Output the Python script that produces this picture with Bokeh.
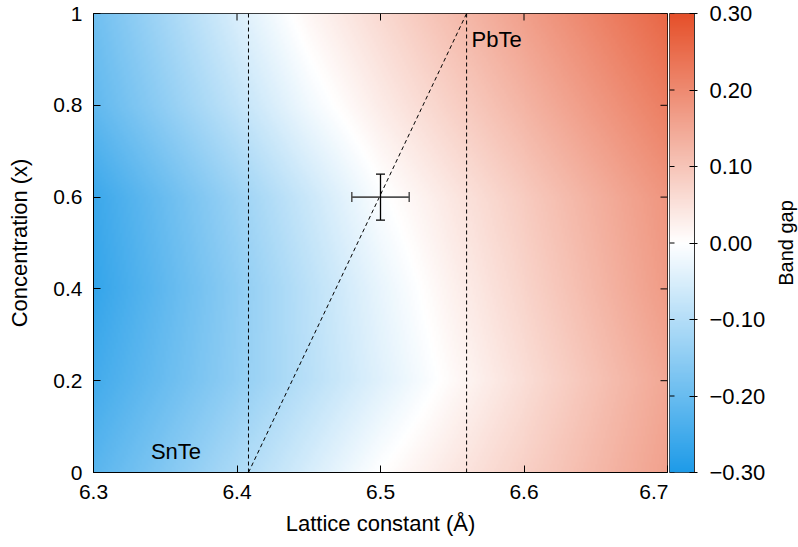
import numpy as np
from bokeh.plotting import figure
from bokeh.layouts import row
from bokeh.models import (LinearColorMapper, FixedTicker, CustomJSTickFormatter,
                          Label, Whisker, ColumnDataSource, Span)
from bokeh.embed import file_html
from bokeh.resources import INLINE

# ---- data ----
lattice = [6.30, 6.35, 6.40, 6.45, 6.50, 6.55, 6.60, 6.65, 6.70]
concentration = [0.0, 0.2, 0.4, 0.6, 0.8, 1.0]
gap_x00 = [-0.22, -0.165, -0.11, -0.055, 0.0, 0.04, 0.08, 0.12, 0.16]
gap_x02 = [-0.25, -0.198, -0.146, -0.094, -0.042, 0.009, 0.056, 0.103, 0.15]
gap_x04 = [-0.27, -0.21, -0.15, -0.09, -0.03, 0.024, 0.073, 0.121, 0.17]
gap_x06 = [-0.26, -0.197, -0.133, -0.07, -0.006, 0.041, 0.088, 0.134, 0.18]
gap_x08 = [-0.21, -0.146, -0.083, -0.019, 0.033, 0.08, 0.127, 0.174, 0.22]
gap_x10 = [-0.19, -0.12, -0.05, 0.015, 0.064, 0.113, 0.162, 0.21, 0.26]

vline_a = [6.408, 6.56]
diag_a = [6.408, 6.56]
diag_x = [0.0, 1.0]

point_a = [6.50]
point_x = [0.60]
err_a = [0.02]
err_x = [0.05]

x_ticks = [6.3, 6.4, 6.5, 6.6, 6.7]
y_ticks = [0.0, 0.2, 0.4, 0.6, 0.8, 1.0]
cb_ticks = [-0.3, -0.2, -0.1, 0.0, 0.1, 0.2, 0.3]
cb_low, cb_high = -0.3, 0.3

labels_text = ["SnTe", "PbTe"]
labels_a = [6.34, 6.5635]
labels_x = [0.045, 0.943]

FONT = "Liberation Sans"
FS = "21px"
FS_TXT = "22px"
FS_CB = "22px"
FS_AX = "22px"
FS_BG = "20px"

# ---- colour map (blue - white - red) ----
neg = (30, 155, 232)
pos = (229, 80, 42)
palette = []
for i in range(256):
    t = i / 255 * 2 - 1
    base = neg if t < 0 else pos
    c = tuple(int(round(255 + (b - 255) * abs(t))) for b in base)
    palette.append("#%02x%02x%02x" % c)
mapper = LinearColorMapper(palette=palette, low=cb_low, high=cb_high)

# ---- smooth (bilinear) shading of the read grid ----
grid = np.array([gap_x00, gap_x02, gap_x04, gap_x06, gap_x08, gap_x10])
na, nx = 288, 230
fa = np.linspace(lattice[0], lattice[-1], na)
fx = np.linspace(concentration[0], concentration[-1], nx)
tmp = np.array([np.interp(fa, lattice, row_) for row_ in grid])
img = np.array([np.interp(fx, concentration, tmp[:, j]) for j in range(na)]).T.astype(np.float32)

# ================= main heat map =================
p = figure(width=668, height=547, x_range=(6.3, 6.7), y_range=(0, 1),
           output_backend="svg", toolbar_location=None,
           min_border_left=93, min_border_top=13, min_border_bottom=75, min_border_right=1,
           x_axis_label="Lattice constant (Å)", y_axis_label="Concentration (x)")
p.grid.visible = False
p.outline_line_color = "black"
p.outline_line_width = 1
p.background_fill_color = "white"

p.image(image=[img], x=6.3, y=0, dw=0.4, dh=1, color_mapper=mapper)

for a in vline_a:
    p.add_layout(Span(location=a, dimension="height", line_color="black",
                      line_width=1, line_dash="4 3"))
p.line(diag_a, diag_x, line_color="black", line_width=1, line_dash="4 3")

# mirrored inward ticks on the top and right frame edges
p.ray(x=x_ticks, y=[p.y_range.end] * len(x_ticks), length=7, length_units="screen",
      angle=-np.pi / 2, line_color="black", line_width=1)
p.ray(x=[p.x_range.end] * len(y_ticks), y=y_ticks, length=7, length_units="screen",
      angle=np.pi, line_color="black", line_width=1)

src = ColumnDataSource(dict(a=point_a, x=point_x,
                            a_lo=[a - e for a, e in zip(point_a, err_a)],
                            a_hi=[a + e for a, e in zip(point_a, err_a)],
                            x_lo=[x - e for x, e in zip(point_x, err_x)],
                            x_hi=[x + e for x, e in zip(point_x, err_x)]))
wh = Whisker(source=src, base="x", lower="a_lo", upper="a_hi", dimension="width",
             line_color="#505050", line_width=1.8, level="overlay")
for head in (wh.upper_head, wh.lower_head):
    head.size = 10
    head.line_color = "#505050"
    head.line_width = 1.5
p.add_layout(wh)
wv = Whisker(source=src, base="a", lower="x_lo", upper="x_hi", dimension="height",
             line_color="black", line_width=1.3, level="overlay")
for head in (wv.upper_head, wv.lower_head):
    head.size = 9
    head.line_color = "black"
    head.line_width = 1.3
p.add_layout(wv)

for t, a, x in zip(labels_text, labels_a, labels_x):
    p.add_layout(Label(x=a, y=x, text=t, text_font=FONT, text_font_size=FS_TXT,
                       text_align="left", text_baseline="middle", text_color="black"))

for ax in (p.xaxis[0], p.yaxis[0]):
    ax.axis_label_text_font = FONT
    ax.axis_label_text_font_size = FS_AX
    ax.axis_label_text_font_style = "normal"
    ax.axis_label_text_color = "black"
    ax.major_label_text_font = FONT
    ax.major_label_text_font_size = FS
    ax.major_label_text_color = "black"
    ax.major_tick_in = 7
    ax.major_tick_out = 0
    ax.minor_tick_line_color = None
    ax.axis_line_color = "black"
    ax.major_tick_line_color = "black"
p.xaxis[0].ticker = FixedTicker(ticks=x_ticks)
p.yaxis[0].ticker = FixedTicker(ticks=y_ticks)
p.xaxis[0].formatter = CustomJSTickFormatter(code="return tick.toFixed(1);")
p.yaxis[0].formatter = CustomJSTickFormatter(code="return tick.toFixed(1).replace(/\\.0$/, '');")
p.xaxis[0].major_label_standoff = 12
p.yaxis[0].major_label_standoff = 11
p.xaxis[0].axis_label_standoff = 9
p.yaxis[0].axis_label_standoff = 18

# ================= colour bar (separate narrow figure) =================
p2 = figure(width=100, height=547, x_range=(0, 1), y_range=(cb_low, cb_high),
            output_backend="svg", toolbar_location=None,
            x_axis_location=None, y_axis_location="right",
            min_border_left=1, min_border_right=71, min_border_top=13, min_border_bottom=75)
p2.grid.visible = False
p2.outline_line_color = "#333333"
p2.outline_line_width = 1
scale_levels = np.linspace(cb_low, cb_high, 256).reshape(256, 1)
p2.image(image=[scale_levels], x=0, y=cb_low, dw=1, dh=cb_high - cb_low, color_mapper=mapper)
p2.ray(x=[p2.x_range.start] * len(cb_ticks), y=cb_ticks, length=5, length_units="screen",
       angle=0, line_color="black", line_width=1)

cax = p2.yaxis[0]
cax.ticker = FixedTicker(ticks=cb_ticks)
cax.formatter = CustomJSTickFormatter(
    code="return (tick < -1e-9 ? '\u2212' : '') + Math.abs(tick).toFixed(2);")
cax.major_label_text_font = FONT
cax.major_label_text_font_size = FS_CB
cax.major_label_text_color = "black"
cax.major_tick_in = 5
cax.major_tick_out = 3
cax.major_tick_line_color = "black"
cax.minor_tick_line_color = None
cax.axis_line_color = "#333333"
cax.major_label_standoff = 12

# ================= colour-bar title (narrow strip, reads bottom to top) =================
p3 = figure(width=30, height=547, x_range=(0, 1), y_range=(0, 1),
            output_backend="svg", toolbar_location=None,
            x_axis_location=None, y_axis_location="left",
            min_border_left=28, min_border_right=0, min_border_top=13, min_border_bottom=75)
p3.grid.visible = False
p3.outline_line_color = None
tax = p3.yaxis[0]
tax.ticker = FixedTicker(ticks=[])
tax.axis_line_color = None
tax.major_tick_in = 0
tax.major_tick_out = 0
tax.minor_tick_line_color = None
tax.major_label_standoff = 0
tax.axis_label = "Band gap"
tax.axis_label_text_font = FONT
tax.axis_label_text_font_size = FS_BG
tax.axis_label_text_font_style = "normal"
tax.axis_label_text_color = "black"
tax.axis_label_standoff = 0

layout = row(p, p2, p3)
open("out.html", "w").write(file_html(layout, INLINE))
